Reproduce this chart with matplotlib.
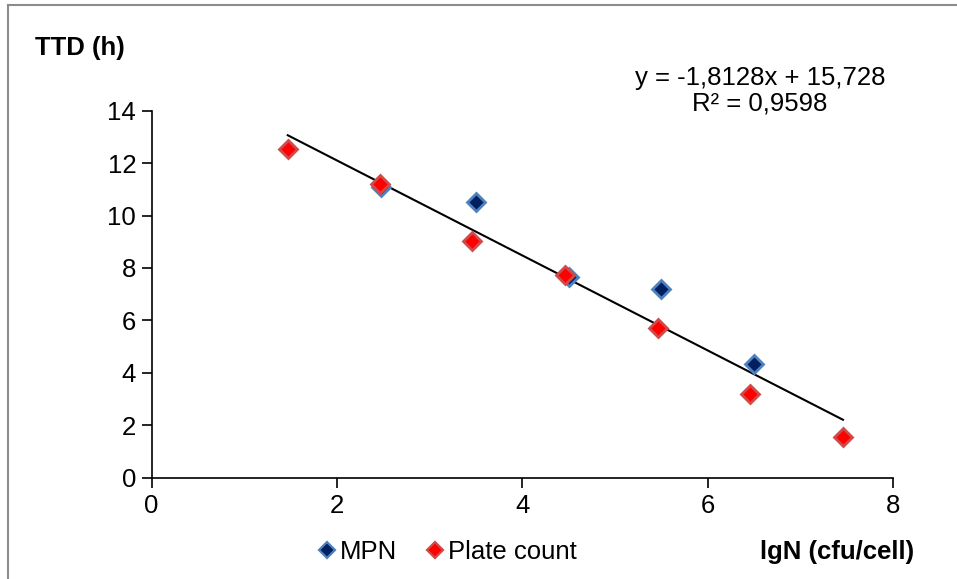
import matplotlib
matplotlib.use("Agg")
import matplotlib.pyplot as plt
from matplotlib.lines import Line2D
import numpy as np

plt.rcParams['font.family'] = ['Liberation Sans', 'DejaVu Sans']

# Data
mpn_x = [2.48, 3.50, 4.50, 5.50, 6.50]
mpn_y = [11.07, 10.50, 7.67, 7.18, 4.35]
plate_x = [1.47, 2.46, 3.46, 4.46, 5.46, 6.46, 7.46]
plate_y = [12.52, 11.19, 9.01, 7.71, 5.69, 3.17, 1.53]
slope, intercept = -1.8128, 15.728
x_ticks = [0, 2, 4, 6, 8]
y_ticks = [0, 2, 4, 6, 8, 10, 12, 14]

W, H = 957, 579
fig = plt.figure(figsize=(W / 100, H / 100), dpi=100)
ax = fig.add_axes([151.5 / W, 1 - 477.5 / H, (893 - 151.5) / W, (477.5 - 110.7) / H])

fs = 18.5

mpn_h, = ax.plot(mpn_x, mpn_y, linestyle='none', marker='D', markersize=9.5,
                 markerfacecolor='#002060', markeredgecolor='#4F81BD',
                 markeredgewidth=2, label='MPN', zorder=3)
plate_h, = ax.plot(plate_x, plate_y, linestyle='none', marker='D', markersize=9.5,
                   markerfacecolor='#FF0000', markeredgecolor='#D04A4A',
                   markeredgewidth=2, label='Plate count', zorder=4)

tx = np.array([min(plate_x), max(plate_x)])
ax.plot(tx, slope * tx + intercept, color='black', linewidth=1.5, zorder=2)

ax.set_xlim(0, 8)
ax.set_ylim(0, 14)
ax.set_xticks(x_ticks)
ax.set_yticks(y_ticks)
ax.tick_params(axis='both', direction='out', length=7, width=1.2,
               labelsize=fs)
ax.tick_params(axis='y', pad=4)
ax.tick_params(axis='x', pad=5)
for s in ['top', 'right']:
    ax.spines[s].set_visible(False)
for s in ['left', 'bottom']:
    ax.spines[s].set_linewidth(1.2)

fig.text(35 / W, 1 - 48 / H, 'TTD (h)', fontsize=fs, fontweight='bold',
         ha='left', va='center')
fig.text(914 / W, 1 - 552 / H, 'lgN (cfu/cell)', fontsize=fs, fontweight='bold',
         ha='right', va='center')
fig.text(760 / W, 1 - 78 / H, 'y = -1,8128x + 15,728', fontsize=fs,
         ha='center', va='center')
fig.text(760 / W, 1 - 104 / H, 'R² = 0,9598', fontsize=fs,
         ha='center', va='center')

mpn_leg = Line2D([], [], linestyle='none', marker='D', markersize=8.5,
                 markerfacecolor='#002060', markeredgecolor='#4F81BD',
                 markeredgewidth=1.6)
plate_leg = Line2D([], [], linestyle='none', marker='D', markersize=8.5,
                   markerfacecolor='#FF0000', markeredgecolor='#D04A4A',
                   markeredgewidth=1.6)
leg = fig.legend(handles=[mpn_leg, plate_leg], labels=['MPN', 'Plate count'],
                 loc='center',
                 bbox_to_anchor=(448 / W, 1 - 552 / H), ncol=2, frameon=False,
                 fontsize=fs, handlelength=0.6, handletextpad=0.2,
                 columnspacing=1.2, borderpad=0, borderaxespad=0)

# figure border (left/top visible)
fig.add_artist(Line2D([8 / W, 8 / W], [0, 1 - 5 / H], color='#8c8c8c',
                      linewidth=1.5, transform=fig.transFigure))
fig.add_artist(Line2D([8 / W, 1], [1 - 5 / H, 1 - 5 / H], color='#8c8c8c',
                      linewidth=1.5, transform=fig.transFigure))

fig.savefig('out.png', dpi=100)
